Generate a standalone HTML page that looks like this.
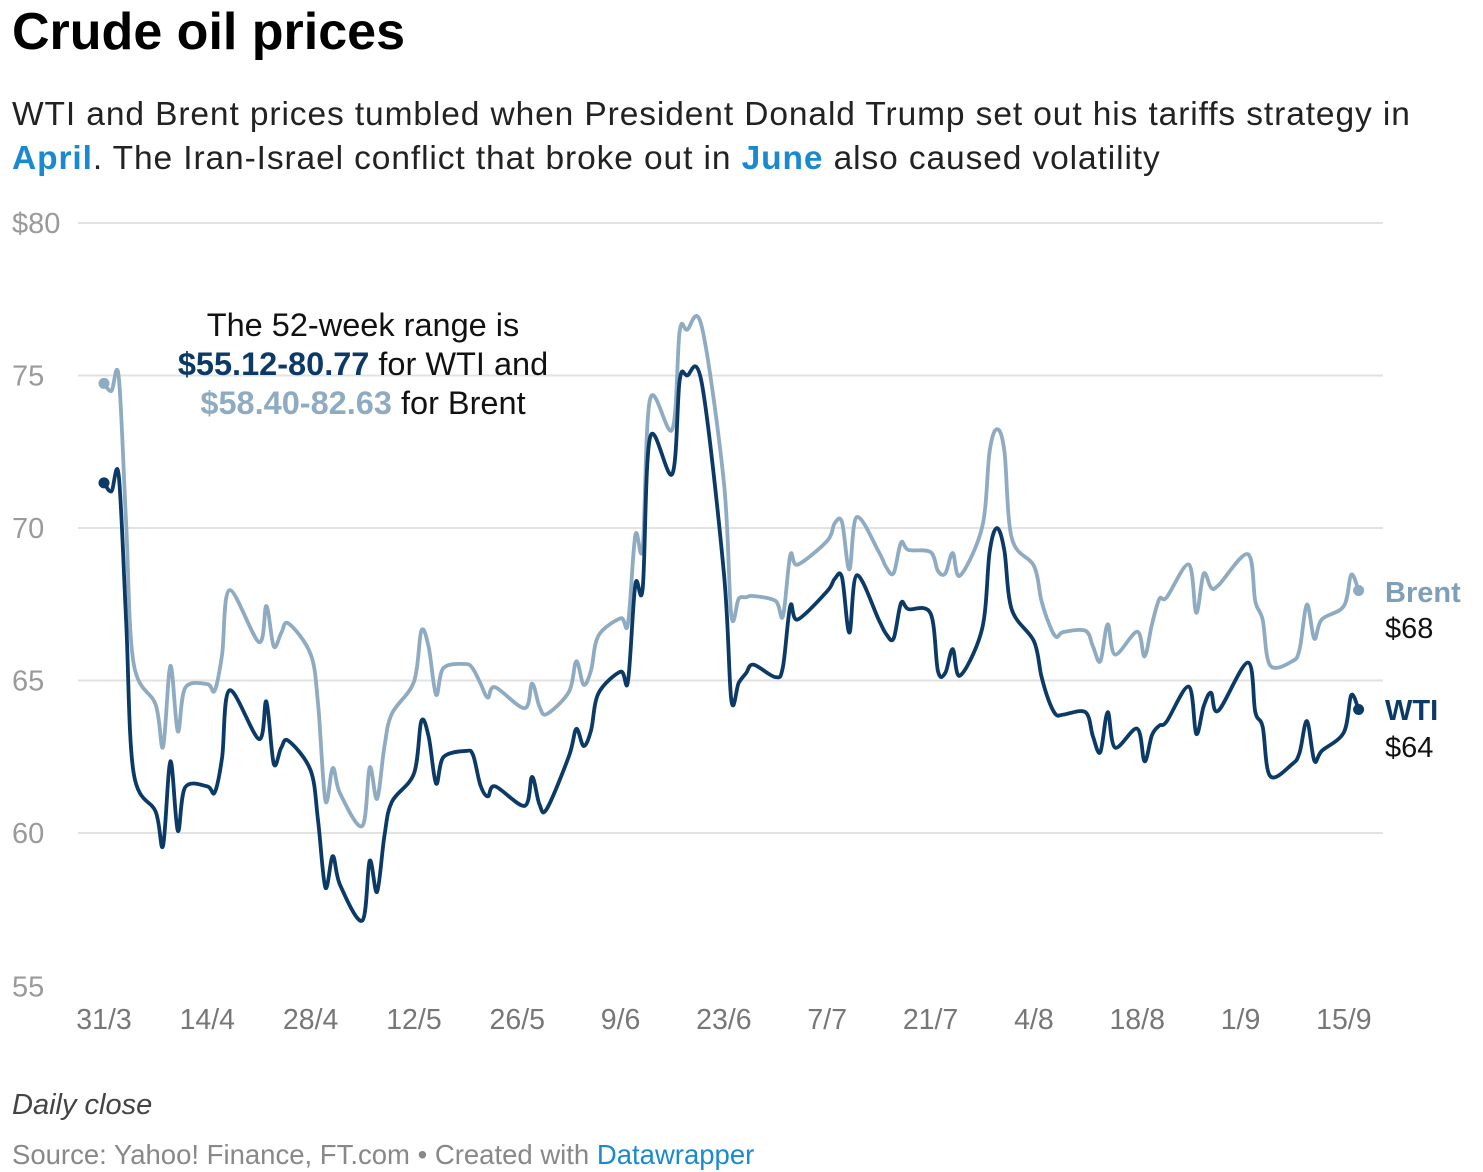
<!DOCTYPE html>
<html><head><meta charset="utf-8">
<style>
body{margin:0;background:#fff;width:1483px;height:1172px;overflow:hidden;font-family:"Liberation Sans",sans-serif;}
.t{position:absolute;white-space:nowrap;}
</style></head>
<body>
<div class="t" style="left:12px;top:2px;font-size:52px;font-weight:bold;color:#000;letter-spacing:0px">Crude oil prices</div>
<div class="t" style="left:12px;top:93px;font-size:33.5px;line-height:44px;color:#222;letter-spacing:0.9px">WTI and Brent prices tumbled when President Donald Trump set out his tariffs strategy in<br><b style="color:#1a8ad0">April</b>. The Iran-Israel conflict that broke out in <b style="color:#1a8ad0">June</b> also caused volatility</div>
<svg id="chart" width="1483" height="1172" style="position:absolute;left:0;top:0;">
</svg>
<div class="t" style="left:12px;top:1089px;font-size:29px;font-style:italic;color:#444">Daily close</div>
<div class="t" style="left:12px;top:1139px;font-size:27.5px;color:#888">Source: Yahoo! Finance, FT.com • Created with <span style="color:#1a8ad0">Datawrapper</span></div>
<script>
const dates=["03-31","04-01","04-02","04-03","04-04","04-07","04-08","04-09","04-10","04-11","04-14","04-15","04-16","04-17","04-21","04-22","04-23","04-24","04-25","04-28","04-29","04-30","05-01","05-02","05-05","05-06","05-07","05-08","05-09","05-12","05-13","05-14","05-15","05-16","05-19","05-20","05-21","05-22","05-23","05-27","05-28","05-29","05-30","06-02","06-03","06-04","06-05","06-06","06-09","06-10","06-11","06-12","06-13","06-16","06-17","06-18","06-20","06-23","06-24","06-25","06-26","06-27","06-30","07-01","07-02","07-03","07-07","07-08","07-09","07-10","07-11","07-14","07-15","07-16","07-17","07-18","07-21","07-22","07-23","07-24","07-25","07-28","07-29","07-30","07-31","08-01","08-04","08-05","08-06","08-07","08-08","08-11","08-12","08-13","08-14","08-15","08-18","08-19","08-20","08-21","08-22","08-25","08-26","08-27","08-28","08-29","09-02","09-03","09-04","09-05","09-08","09-09","09-10","09-11","09-12","09-15","09-16","09-17"];
const wti=[71.48,71.20,71.71,66.95,61.99,60.70,59.58,62.35,60.07,61.50,61.53,61.33,62.47,64.68,63.08,64.31,62.27,62.79,63.02,62.05,60.42,58.21,59.24,58.29,57.13,59.09,58.07,59.91,61.02,61.95,63.67,63.15,61.62,62.49,62.69,62.56,61.57,61.20,61.53,60.89,61.84,60.94,60.79,62.52,63.41,62.85,63.37,64.58,65.29,64.98,68.15,68.04,72.98,71.77,74.84,75.00,74.75,68.51,64.37,64.92,65.24,65.52,65.11,65.45,67.45,67.00,67.93,68.33,68.38,66.57,68.45,66.98,66.52,66.38,67.54,67.34,67.20,65.31,65.25,66.03,65.16,66.71,69.21,70.00,69.26,67.33,66.29,65.16,64.35,63.88,63.88,63.96,63.17,62.65,63.96,62.80,63.42,62.35,63.21,63.52,63.66,64.80,63.25,64.15,64.60,64.01,65.59,63.97,63.48,61.87,62.26,62.63,63.67,62.37,62.69,63.30,64.52,64.05];
const brent=[74.74,74.49,74.95,70.14,65.58,64.21,62.82,65.48,63.33,64.76,64.88,64.67,65.85,67.96,66.26,67.44,66.12,66.55,66.87,65.86,64.25,61.06,62.13,61.29,60.23,62.15,61.12,62.84,63.91,64.96,66.63,66.09,64.53,65.41,65.54,65.38,64.91,64.44,64.78,64.09,64.90,64.15,63.90,64.63,65.63,64.86,65.34,66.47,67.04,66.87,69.77,69.36,74.23,73.23,76.45,76.50,76.60,71.48,67.14,67.68,67.73,67.77,67.61,67.11,69.11,68.80,69.58,70.15,70.19,68.64,70.36,69.21,68.71,68.52,69.52,69.28,69.21,68.59,68.51,69.18,68.44,70.04,72.51,73.24,72.53,69.67,68.76,67.64,66.89,66.43,66.59,66.63,66.12,65.63,66.84,65.85,66.60,65.79,66.84,67.67,67.73,68.80,67.22,68.50,68.05,68.12,69.14,67.60,66.99,65.50,65.63,66.02,67.49,66.37,67.00,67.44,68.47,67.95];
const yTicks=[80,75,70,65,60,55];
const yTickLabels=["$80","75","70","65","60","55"];
const xTicks=["03-31","04-14","04-28","05-12","05-26","06-09","06-23","07-07","07-21","08-04","08-18","09-01","09-15"];
const xTickLabels=["31/3","14/4","28/4","12/5","26/5","9/6","23/6","7/7","21/7","4/8","18/8","1/9","15/9"];

const NS="http://www.w3.org/2000/svg";
const svg=document.getElementById('chart');
function dayOf(s){const [m,d]=s.split('-').map(Number);const cum={3:0,4:31,5:61,6:92,7:122,8:153,9:184};return cum[m]+d-31;}
function x(s){return 104+dayOf(s)*7.38;}
function y(v){return 223+(80-v)*30.5;}
function mk(tag,attrs){const e=document.createElementNS(NS,tag);for(const k in attrs)e.setAttribute(k,attrs[k]);svg.appendChild(e);return e;}

yTicks.forEach((v,i)=>{
  if(i<yTicks.length-1){const g=mk('line',{x1:78,x2:1383,y1:y(v),y2:y(v),stroke:'#e2e2e2','stroke-width':2});
  
  }
  const t=mk('text',{x:12,y:y(v)+10,fill:'#9a9a9a','font-size':29,'font-family':'Liberation Sans, sans-serif'});
  t.textContent=yTickLabels[i];
  
  
  if(i===yTicks.length-1)t.setAttribute('y',y(v)+11);
});
xTicks.forEach((d,i)=>{
  const t=mk('text',{x:x(d),y:1029,fill:'#777','font-size':28.5,'text-anchor':'middle','font-family':'Liberation Sans, sans-serif'});
  t.textContent=xTickLabels[i];
  
  
});
function path(vals){
  const p=vals.map((v,i)=>[x(dates[i]),y(v)]);
  let d=`M${p[0][0]},${p[0][1]}`;
  for(let i=0;i<p.length-1;i++){
    const p0=p[Math.max(0,i-1)],p1=p[i],p2=p[i+1],p3=p[Math.min(p.length-1,i+2)];
    const k=1/6;
    d+=` C${p1[0]+(p2[0]-p0[0])*k},${p1[1]+(p2[1]-p0[1])*k} ${p2[0]-(p3[0]-p1[0])*k},${p2[1]-(p3[1]-p1[1])*k} ${p2[0]},${p2[1]}`;
  }
  return d;
}
const series=[[brent,'#8eabc2','brent-line'],[wti,'#0b3a66','wti-line']];
series.forEach(([vals,col,name])=>{
  const l=mk('path',{d:path(vals),fill:'none',stroke:col,'stroke-width':3.8,'stroke-linejoin':'round','stroke-linecap':'round'});
  
  
  [0,vals.length-1].forEach(i=>{
    const c=mk('circle',{cx:x(dates[i]),cy:y(vals[i]),r:5.5,fill:col});
    
    
  });
});
function txt(s,attrs,name){const t=mk('text',Object.assign({'font-family':'Liberation Sans, sans-serif','font-size':32.5},attrs));t.innerHTML=s;return t;}
txt('The 52-week range is',{x:363,y:336,'text-anchor':'middle',fill:'#111'},'annotation-line-1');
txt('<tspan font-weight="bold" fill="#0b3a66">$55.12-80.77</tspan> for WTI and',{x:363,y:375,'text-anchor':'middle',fill:'#111'},'annotation-line-2');
txt('<tspan font-weight="bold" fill="#8eabc2">$58.40-82.63</tspan> for Brent',{x:363,y:414,'text-anchor':'middle',fill:'#111'},'annotation-line-3');
txt('Brent',{x:1385,y:602,'font-weight':'bold',fill:'#7f9fb8','font-size':29},'brent-label');
txt('$68',{x:1385,y:638,fill:'#111','font-size':29},'brent-value');
txt('WTI',{x:1385,y:720,'font-weight':'bold',fill:'#0b3a66','font-size':29},'wti-label');
txt('$64',{x:1385,y:757,fill:'#111','font-size':29},'wti-value');
</script>
</body></html>
